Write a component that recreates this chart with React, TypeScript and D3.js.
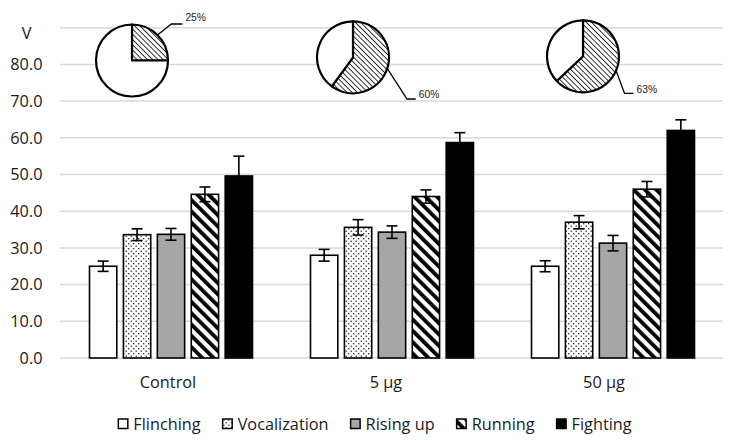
import React, { useEffect, useRef } from 'react';
import * as d3 from 'd3';

const categories = ['Control', '5 µg', '50 µg'];
const seriesNames = ['Flinching', 'Vocalization', 'Rising up', 'Running', 'Fighting'];
const flinching = [25.0, 28.0, 25.0];
const flinchingErr = [1.4, 1.6, 1.5];
const vocalization = [33.6, 35.6, 37.0];
const vocalizationErr = [1.6, 2.1, 1.8];
const risingUp = [33.7, 34.3, 31.3];
const risingUpErr = [1.6, 1.7, 2.1];
const running = [44.6, 44.0, 46.0];
const runningErr = [2.0, 1.8, 2.1];
const fighting = [49.6, 58.7, 62.0];
const fightingErr = [5.4, 2.7, 2.9];
const yTicks = [0, 10, 20, 30, 40, 50, 60, 70, 80];
const yMax = 90;
const yUnitLabel = 'V';
const pieShares = [25, 60, 63];
const pieLabels = ['25%', '60%', '63%'];

const W = 732;
const H = 440;
const FONT = "'Open Sans', sans-serif";
const FS = 16.3;
const TXT = '#1a1a1a';

export default function App() {
  const ref = useRef<SVGSVGElement | null>(null);

  useEffect(() => {
    document.body.style.margin = '0';
    const svg = d3.select(ref.current);
    svg.selectAll('*').remove();

    const values = [flinching, vocalization, risingUp, running, fighting];
    const errs = [flinchingErr, vocalizationErr, risingUpErr, runningErr, fightingErr];

    const y = d3.scaleLinear().domain([0, yMax]).range([358, 27.7]);
    const x0 = d3.scaleBand<string>().domain(categories).range([60.5, 723.5]).padding(0);
    const xLabel = d3.scaleBand<string>().domain(categories).range([59, 713]).padding(0);
    const x1 = d3.scaleBand<string>().domain(seriesNames).range([-81.5, 81.5]).paddingInner(0.195).paddingOuter(0);

    // patterns
    const defs = svg.append('defs');
    const dots = defs.append('pattern').attr('id', 'dots').attr('patternUnits', 'userSpaceOnUse')
      .attr('width', 5).attr('height', 5);
    dots.append('rect').attr('width', 5).attr('height', 5).attr('fill', '#fff');
    dots.append('rect').attr('x', 0.6).attr('y', 0.6).attr('width', 1.2).attr('height', 1.2).attr('fill', '#000');
    dots.append('rect').attr('x', 3.1).attr('y', 3.1).attr('width', 1.2).attr('height', 1.2).attr('fill', '#000');

    const stripes = defs.append('pattern').attr('id', 'stripes').attr('patternUnits', 'userSpaceOnUse')
      .attr('width', 8).attr('height', 8).attr('patternTransform', 'rotate(-45)');
    stripes.append('rect').attr('width', 8).attr('height', 8).attr('fill', '#fff');
    stripes.append('rect').attr('width', 3.8).attr('height', 8).attr('fill', '#000');

    const hatch = defs.append('pattern').attr('id', 'hatch').attr('patternUnits', 'userSpaceOnUse')
      .attr('width', 3.7).attr('height', 3.7).attr('patternTransform', 'rotate(-45)');
    hatch.append('rect').attr('width', 3.7).attr('height', 3.7).attr('fill', '#fff');
    hatch.append('rect').attr('width', 0.8).attr('height', 3.7).attr('fill', '#000');

    const fills = ['#ffffff', 'url(#dots)', '#a6a6a6', 'url(#stripes)', '#000000'];

    // gridlines
    const gridVals = [...yTicks, yMax];
    svg.append('g').selectAll('line').data(gridVals).join('line')
      .attr('x1', 60).attr('x2', 723)
      .attr('y1', d => y(d)).attr('y2', d => y(d))
      .attr('stroke', '#d9d9d9').attr('stroke-width', 1.5);

    // y tick labels
    svg.append('g').selectAll('text').data(yTicks).join('text')
      .attr('x', 42.5).attr('y', d => y(d)).attr('dy', '0.35em')
      .attr('text-anchor', 'end').attr('font-family', FONT).attr('font-size', FS).attr('fill', TXT)
      .text(d => d.toFixed(1));
    svg.append('text').attr('x', 26.5).attr('y', 33).attr('dy', '0.35em').attr('text-anchor', 'middle')
      .attr('font-family', FONT).attr('font-size', FS).attr('fill', TXT).text(yUnitLabel);

    // bars
    const gBars = svg.append('g');
    categories.forEach((cat, ci) => {
      const cx = x0(cat)! + x0.bandwidth() / 2;
      seriesNames.forEach((s, si) => {
        const v = values[si][ci];
        const bx = cx + x1(s)!;
        gBars.append('rect')
          .attr('x', bx).attr('y', y(v)).attr('width', x1.bandwidth()).attr('height', y(0) - y(v))
          .attr('fill', fills[si]).attr('stroke', '#000').attr('stroke-width', 1.6);
      });
    });
    // error bars
    const gErr = svg.append('g').attr('stroke', '#000').attr('stroke-width', 1.6);
    categories.forEach((cat, ci) => {
      const cx = x0(cat)! + x0.bandwidth() / 2;
      seriesNames.forEach((s, si) => {
        const v = values[si][ci];
        const e = errs[si][ci];
        const mx = cx + x1(s)! + x1.bandwidth() / 2;
        gErr.append('line').attr('x1', mx).attr('x2', mx).attr('y1', y(v - e)).attr('y2', y(v + e));
        gErr.append('line').attr('x1', mx - 5.5).attr('x2', mx + 5.5).attr('y1', y(v + e)).attr('y2', y(v + e));
        gErr.append('line').attr('x1', mx - 5.5).attr('x2', mx + 5.5).attr('y1', y(v - e)).attr('y2', y(v - e));
      });
    });

    // category labels
    svg.append('g').selectAll('text').data(categories).join('text')
      .attr('x', d => xLabel(d)! + xLabel.bandwidth() / 2).attr('y', 382).attr('dy', '0.35em')
      .attr('text-anchor', 'middle').attr('font-family', FONT).attr('font-size', FS).attr('fill', TXT)
      .text(d => d);

    // pies
    const pieOffsetX = [-39, -39, -30];
    const pieY = [60.5, 57.3, 56.3];
    const r = 36;
    const leaderElbow = [[39.4, -36.5], [54, 41.7], [41.5, 37]];
    const leaderEndDx = [50.4, 62.7, 50.5];
    categories.forEach((cat, ci) => {
      const cx = x0(cat)! + x0.bandwidth() / 2 + pieOffsetX[ci];
      const cy = pieY[ci];
      const g = svg.append('g').attr('transform', `translate(${cx},${cy})`);
      const share = pieShares[ci] / 100;
      const arcs = d3.pie<number>().sort(null)([share, 1 - share]);
      const arc = d3.arc<d3.PieArcDatum<number>>().innerRadius(0).outerRadius(r);
      g.selectAll('path').data(arcs).join('path')
        .attr('d', arc)
        .attr('fill', (d, i) => (i === 0 ? 'url(#hatch)' : '#fff'))
        .attr('stroke', '#000').attr('stroke-width', 2.2).attr('stroke-linejoin', 'round');
      // leader
      const mid = (arcs[0].startAngle + arcs[0].endAngle) / 2;
      const px = Math.sin(mid) * r;
      const py = -Math.cos(mid) * r;
      const [ex, ey] = leaderElbow[ci];
      g.append('polyline')
        .attr('points', `${px},${py} ${ex},${ey} ${leaderEndDx[ci]},${ey}`)
        .attr('fill', 'none').attr('stroke', '#000').attr('stroke-width', 1.3);
      g.append('text').attr('x', leaderEndDx[ci] + 3).attr('y', ey).attr('dy', ci === 0 ? '-0.3em' : '-0.05em')
        .attr('font-family', "'Liberation Sans', Arial, sans-serif").attr('font-size', 10.3).attr('fill', '#222')
        .text(pieLabels[ci]);
    });

    // legend
    const lg = svg.append('g');
    let cursor = 0;
    const items: { g: any; w: number }[] = [];
    seriesNames.forEach((s, si) => {
      const g = lg.append('g');
      g.append('rect').attr('x', 0).attr('y', -5).attr('width', 9.5).attr('height', 9.5)
        .attr('fill', fills[si]).attr('stroke', '#000').attr('stroke-width', 1.5);
      const t = g.append('text').attr('x', 15).attr('y', 0).attr('dy', '0.35em')
        .attr('font-family', FONT).attr('font-size', FS).attr('fill', TXT).text(s);
      const tw = (t.node() as SVGTextElement).getComputedTextLength();
      items.push({ g, w: 15 + tw });
    });
    const gap = 22;
    const total = items.reduce((a, b) => a + b.w, 0) + gap * (items.length - 1);
    cursor = 375 - total / 2;
    items.forEach(it => {
      it.g.attr('transform', `translate(${cursor},424)`);
      cursor += it.w + gap;
    });
  }, []);

  return <svg ref={ref} width={W} height={H} style={{ display: 'block', background: '#fff' }} />;
}
